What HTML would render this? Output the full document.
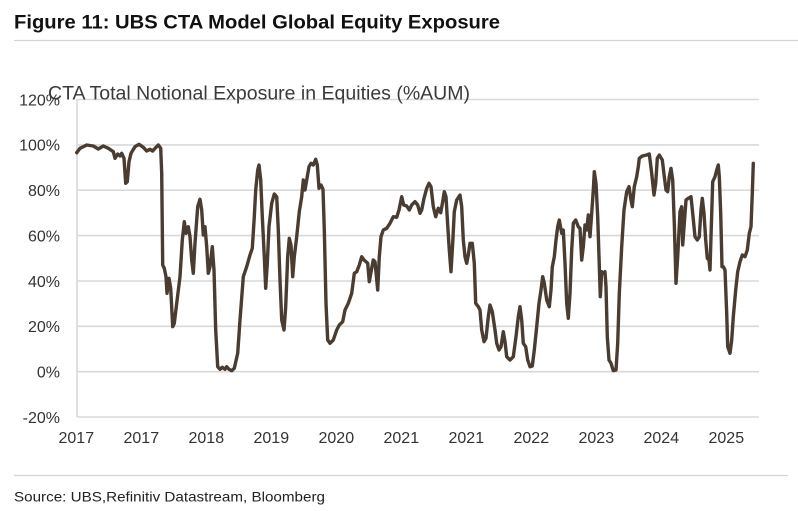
<!DOCTYPE html>
<html><head><meta charset="utf-8"><style>
html,body{margin:0;padding:0;background:#fff;}
svg{display:block;}
text{font-family:"Liberation Sans",Arial,sans-serif;}
</style></head><body>
<svg width="798" height="511" viewBox="0 0 798 511" xmlns="http://www.w3.org/2000/svg">
<rect width="798" height="511" fill="#fff"/>
<text x="14" y="28.3" font-size="19" font-weight="bold" fill="#111" textLength="486" lengthAdjust="spacingAndGlyphs">Figure 11: UBS CTA Model Global Equity Exposure</text>
<line x1="14" y1="40.5" x2="798" y2="40.5" stroke="#d4d4d4" stroke-width="1.2"/>
<g stroke="#d9d9d9" stroke-width="1.6">
<line x1="77" y1="99.5" x2="759" y2="99.5"/>
<line x1="77" y1="144.9" x2="759" y2="144.9"/>
<line x1="77" y1="190.2" x2="759" y2="190.2"/>
<line x1="77" y1="235.6" x2="759" y2="235.6"/>
<line x1="77" y1="281" x2="759" y2="281"/>
<line x1="77" y1="326.3" x2="759" y2="326.3"/>
<line x1="77" y1="371.7" x2="759" y2="371.7"/>
<line x1="77" y1="417" x2="759" y2="417"/>
<line x1="77" y1="99.5" x2="77" y2="417"/>
</g>
<text x="48" y="99.5" font-size="19" fill="#3a3a3a" textLength="422" lengthAdjust="spacingAndGlyphs">CTA Total Notional Exposure in Equities  (%AUM)</text>
<g font-size="16" fill="#333" text-anchor="end">
<text x="60" y="105.3">120%</text>
<text x="60" y="150.7">100%</text>
<text x="60" y="196">80%</text>
<text x="60" y="241.4">60%</text>
<text x="60" y="286.8">40%</text>
<text x="60" y="332.1">20%</text>
<text x="60" y="377.5">0%</text>
<text x="60" y="422.8">-20%</text>
</g>
<g font-size="16" fill="#333" text-anchor="middle">
<text x="76.3" y="443">2017</text>
<text x="141.3" y="443">2017</text>
<text x="206.3" y="443">2018</text>
<text x="271.3" y="443">2019</text>
<text x="336.3" y="443">2020</text>
<text x="401.3" y="443">2021</text>
<text x="466.3" y="443">2021</text>
<text x="531.3" y="443">2022</text>
<text x="596.3" y="443">2023</text>
<text x="661.3" y="443">2024</text>
<text x="726.3" y="443">2025</text>
</g>
<polyline fill="none" stroke="#4b3c31" stroke-width="3.4" stroke-linejoin="round" stroke-linecap="round" points="76.7,152.7 80,148.3 86.7,145 93.3,146 98.3,149 103.3,146 108.3,148.3 113.3,151.7 115,158.3 117.7,154 120,156 121.7,153.3 124,158.3 125.7,183.3 127.3,181.7 129,161.7 131,153.3 135,146.7 139,144.3 143.3,147.3 146.7,151 150,149.3 152.7,151 155,148.3 158.3,145 160.7,148.3 161.7,173.3 162.7,265 164.3,268.3 166,276.7 167,293.3 169,278.3 170.7,288.3 172.7,326.7 174.3,323.3 176.7,303.3 180,276.7 182.3,240 184.3,221.7 186,233.3 188.3,226.7 190,236.7 191.7,260 193.3,273.3 195,243.3 197.7,206.7 200,199.3 201.7,210 203.3,235 205,226.7 206.7,246.7 208.3,273.3 210,266.7 212.3,246.7 214,270 215.7,330 217.7,366.7 220,369.3 222.3,367.3 225,369.3 226.7,366.7 229,369.3 231.7,370.7 234.3,368.3 237.7,353.3 240,320 243.3,276.7 246.7,266.7 250,255 252.3,248.3 254.3,216.7 255.7,190 257.7,170 259,165 260.7,180 262.3,216.7 264.3,256.7 265.7,288.3 267.3,263.3 269,226.7 271.7,203.3 274.3,194 276.7,196.7 278.3,230 280,280 281.7,320 284,330 285.7,306.7 287.7,256.7 289.3,238.3 291,245 292.7,276.7 294.3,256.7 296.7,236.7 299.3,211.7 301.7,196.7 303.3,180 305,190 306.7,180 309,166.7 311,163.3 313.3,165 315.7,159.3 317.3,165 319,188.3 321,185 323,189.3 324.3,230 326,303.3 327.7,340 330,343.3 333.3,340 336.7,330 339.3,325 342.7,321.7 345,310 348.3,303.3 351.7,293.3 354.3,273.3 356.7,271.7 359.3,265 361.7,256.7 364,260 366,261.7 367.7,263.3 369.3,281.7 371.7,268.3 373.3,260 375,261.7 377.7,290 379.3,256.7 381,236.7 383.3,230 386.7,228.3 390,223.3 393.3,216.7 396.7,217.3 399,210 401.7,196.7 403.7,205 406.7,206 409.3,210 411.7,205 415,201.7 417.7,205 420,213.3 421.7,210 424,198.3 426.7,188.3 429,183.3 431,186.7 433.3,206.7 435.7,216.7 438.3,208.3 440.7,212.7 442.7,201.7 444.3,191.7 446,196.7 447.7,225 449.3,250 451,271.7 452.7,243.3 454.3,211.7 456.7,200 460,195 461.7,206.7 463.3,240 465,256.7 466.7,263.3 468.3,255 470,243.3 472.3,243.3 474.3,263.3 475.7,303.3 478.3,306.7 480,310 481.7,330 484,341.7 486,338.3 488.3,316.7 490,305 492.3,311.7 495,330 496.7,343.3 499,350 501,346.7 503.3,331.7 505,341.7 506.7,356.7 510,360 513.3,356.7 516,336.7 518.3,316.7 520,306.7 521.7,320 523.3,343.3 525.7,346.7 527.7,360 530,366.7 532.3,366 534.3,350 536.7,326.7 539,303.3 541,290 542.7,276.7 544.3,283.3 546.7,300 549.3,306.7 551,290 552.3,266.7 554.3,256.7 556,240 557.7,226.7 559.3,220 561.7,233.3 563.3,230 565,263.3 566.7,303.3 568.3,318.3 570,293.3 571.7,250 573.3,223.3 575.7,220 578.3,226.7 580,228.3 581.7,260 583.3,246.7 585,225 586.7,230 588.3,215 590,236.7 591.7,213.3 593.3,190 594.3,171.7 596,183.3 597.7,216.7 599,256.7 600.3,296.7 601.7,271.7 603.3,273.3 605,271.7 606,286.7 607.3,336.7 609,360 611,363.3 613.3,370.7 616,370 617.7,343.3 619.3,293.3 621.7,246.7 624,210 626.7,191.7 629,186.7 631,200 632.3,206.7 634.3,186.7 636.7,176.7 638.3,166.7 639.3,158.3 642.3,156 646.7,155 649.3,154 651.7,173.3 654,195 655.7,183.3 657.3,158.3 659.3,155 662.3,160 664.3,176.7 666,190 667.7,191.7 669.3,176.7 671,168.3 672.7,180 674.3,223.3 676,283.3 677.7,256.7 680,211.7 681.7,206.7 682.7,245 684.3,223.3 686,200 688.3,198.3 691,196.7 692.7,213.3 695,236.7 697.3,240 699.3,236.7 701,210 702.3,198.3 704,213.3 705.7,240 707.3,258.3 709,260 710,270 711,236.7 712.7,181.7 715,176.7 716.7,170 718.3,165 719.3,176.7 720.7,213.3 722,266.7 723.3,266.7 725,270 726.7,313.3 727.7,346.7 730,353.3 731.7,340 733.3,316.7 735.7,290 737.7,271.7 740,261.7 742.3,255 745,256.7 747.3,250 749.3,233.3 751,226.7 752.3,193.3 753.3,163.3"/>
<line x1="14" y1="475.5" x2="788" y2="475.5" stroke="#d4d4d4" stroke-width="1.2"/>
<text x="14" y="501.5" font-size="14" fill="#222" textLength="311" lengthAdjust="spacingAndGlyphs">Source: UBS,Refinitiv Datastream, Bloomberg</text>
</svg>
</body></html>
